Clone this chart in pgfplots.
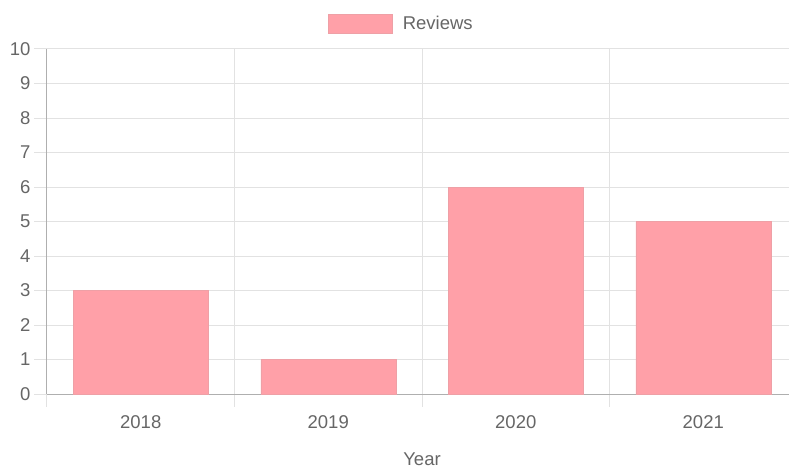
\documentclass[border=0pt]{standalone}
\usepackage{pgfplots}
\pgfplotsset{compat=1.18}
\usepackage{fontspec}
\setmainfont{Liberation Sans}
\definecolor{barfill}{RGB}{255,160,168}
\definecolor{barline}{RGB}{238,160,166}
\definecolor{txt}{RGB}{102,102,102}
\definecolor{gridc}{RGB}{226,226,226}
\definecolor{axc}{RGB}{175,175,175}
\begin{document}
\begin{tikzpicture}
\clip (-47pt,-75pt) rectangle (742pt,394pt);
\begin{axis}[
  at={(0,0)}, anchor=south west,
  scale only axis, width=750pt, height=345pt,
  xmin=-0.5, xmax=3.5, ymin=0, ymax=10,
  ybar, bar width=135pt,
  ytick={0,1,...,10},
  xtick={-0.5,0.5,1.5,2.5,3.5},
  x tick label as interval,
  xticklabels={2018,2019,2020,2021},
  axis lines*=left,
  axis line style={draw=axc, line width=1pt, -},
  ymajorgrids, xmajorgrids,
  major grid style={gridc, line width=1pt},
  tick align=outside,
  major tick length=13pt,
  every tick/.style={gridc, line width=1pt},
  ticklabel style={font=\fontsize{18.5}{22}\selectfont, text=txt},
  xticklabel style={yshift=-5pt},
  /pgf/number format/assume math mode=true,
  xlabel={Year},
  xlabel style={font=\fontsize{18.5}{22}\selectfont, text=txt, inner sep=0pt, yshift=-21pt},
  legend style={at={(0.4727,1.04)}, anchor=south, draw=none, fill=none,
    font=\fontsize{18.5}{22}\selectfont, text=txt},
  legend image code/.code={\draw[fill=barfill, draw=barline] (0pt,-9.5pt) rectangle (64pt,9.5pt); \path (72pt,0pt);},
]
\addplot[fill=barfill, draw=barline] coordinates {(0,3) (1,1) (2,6) (3,5)};
\addlegendentry{Reviews}
\end{axis}
\end{tikzpicture}
\end{document}
